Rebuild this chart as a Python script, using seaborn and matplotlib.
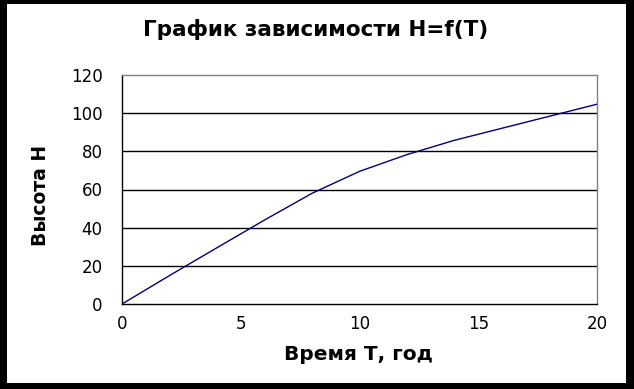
import matplotlib
matplotlib.use("Agg")
import matplotlib.pyplot as plt
import seaborn as sns
import pandas as pd
from matplotlib.patches import Rectangle

# Data
T = [0, 2, 4, 6, 8, 10, 12, 14, 16, 18, 20]
H = [0, 14.9, 29.5, 44, 58, 69.5, 78.3, 85.8, 92.1, 98.4, 104.7]
x_ticks = [0, 5, 10, 15, 20]
y_ticks = [0, 20, 40, 60, 80, 100, 120]

title = "График зависимости H=f(T)"
xlabel = "Время Т, год"
ylabel = "Высота Н"

sns.set_style("white")
plt.rcParams['font.family'] = ['DejaVu Sans']

W, Hpx = 634, 389
fig = plt.figure(figsize=(W / 100, Hpx / 100), dpi=100)
fig.patch.set_facecolor("black")
bg = Rectangle((7 / W, 6 / Hpx), (626 - 7) / W, (385 - 6) / Hpx,
               transform=fig.transFigure, facecolor="white",
               edgecolor="none", zorder=-10)
fig.add_artist(bg)

ax = fig.add_axes([122 / W, (Hpx - 304) / Hpx, 475 / W, 229 / Hpx])
ax.set_facecolor("white")

df = pd.DataFrame({"T": T, "H": H})
sns.lineplot(data=df, x="T", y="H", ax=ax, color="#000080", linewidth=1.0, zorder=3)

ax.set_xlim(0, 20)
ax.set_ylim(0, 120)
ax.set_xticks(x_ticks)
ax.set_yticks(y_ticks)
ax.tick_params(axis="both", which="both", direction="out", length=5, width=1,
               color="black", labelsize=12, labelcolor="black")
ax.tick_params(axis="y", pad=9)
ax.tick_params(axis="x", pad=3)

for y in y_ticks[1:-1]:
    ax.axhline(y, color="black", linewidth=1, zorder=1)

ax.spines["left"].set_color("black")
ax.spines["bottom"].set_color("black")
ax.spines["top"].set_color("#808080")
ax.spines["right"].set_color("#808080")
for s in ax.spines.values():
    s.set_linewidth(1)
    s.set_visible(True)

ax.set_xlabel("")
ax.set_ylabel("")
fig.text(316 / W, 1 - 30 / Hpx, title, ha="center", va="center",
         fontsize=15.5, fontweight="bold", color="black")
fig.text(358 / W, 1 - 355 / Hpx, xlabel, ha="center", va="center",
         fontsize=14.5, fontweight="bold", color="black")
fig.text(40 / W, 1 - 195 / Hpx, ylabel, ha="center", va="center", rotation=90,
         fontsize=13.5, fontweight="bold", color="black")

fig.savefig("out.png", dpi=100, facecolor=fig.get_facecolor())
